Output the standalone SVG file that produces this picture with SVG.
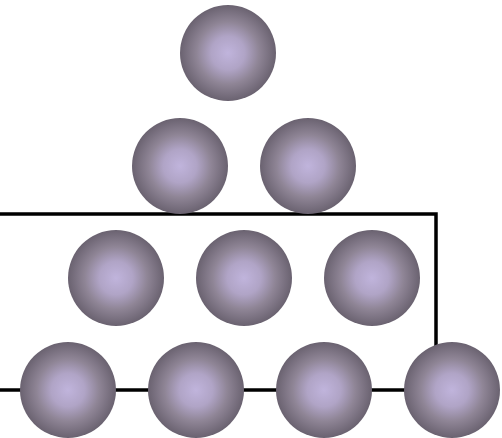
<svg xmlns="http://www.w3.org/2000/svg" width="502" height="438" viewBox="0 0 502 438">
<style>
.ball{fill:url(#g)}
.wire{fill:none;stroke:#000;stroke-width:3.5}
</style>
<defs>
<radialGradient id="g" cx="0.5" cy="0.5" r="0.5">
<stop offset="0" stop-color="#c0b4dc"/>
<stop offset="0.35" stop-color="#b0a4c6"/>
<stop offset="0.65" stop-color="#8f8596"/>
<stop offset="1" stop-color="#6a6270"/>
</radialGradient>
</defs>
<rect width="502" height="438" fill="#fff"/>
<g id="connectors">
<polyline class="wire" points="0,214 436,214 436,390"/>
<line class="wire" x1="0" y1="390" x2="452" y2="390"/>
</g>
<g id="n1"><circle class="ball" cx="228" cy="53" r="48"/></g>
<g id="n2"><circle class="ball" cx="180" cy="166" r="48"/></g>
<g id="n3"><circle class="ball" cx="308" cy="166" r="48"/></g>
<g id="n4"><circle class="ball" cx="116" cy="278" r="48"/></g>
<g id="n5"><circle class="ball" cx="244" cy="278" r="48"/></g>
<g id="n6"><circle class="ball" cx="372" cy="278" r="48"/></g>
<g id="n7"><circle class="ball" cx="68" cy="390" r="48"/></g>
<g id="n8"><circle class="ball" cx="196" cy="390" r="48"/></g>
<g id="n9"><circle class="ball" cx="324" cy="390" r="48"/></g>
<g id="n10"><circle class="ball" cx="452" cy="390" r="48"/></g>
</svg>
